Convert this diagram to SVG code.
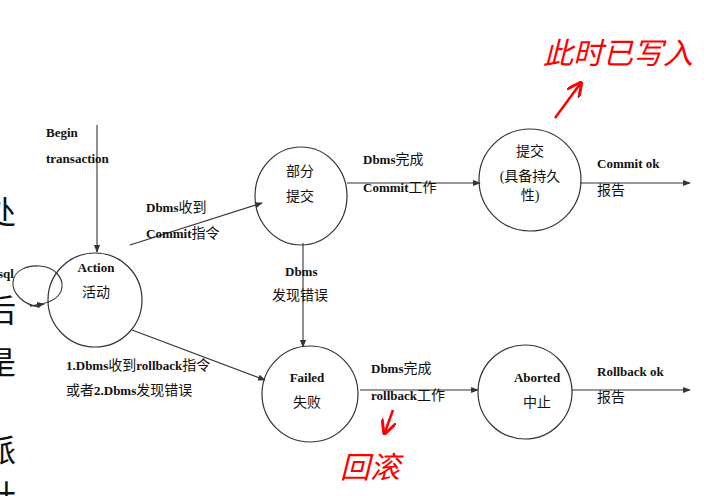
<svg xmlns="http://www.w3.org/2000/svg" width="712" height="496" viewBox="0 0 712 496">
<defs>
<style>
.n{fill:none;stroke:#333;stroke-width:1.2}
.b{font-family:"Liberation Serif","Noto Sans CJK SC",serif;font-weight:bold;font-size:13px;fill:#111}
.t{font-family:"Liberation Serif","Noto Sans CJK SC",serif;font-weight:normal;font-size:14px;fill:#111}
.l{stroke:#333;stroke-width:1.1;fill:none}
.big{font-family:"Noto Sans CJK SC",serif;font-size:32px;fill:#111}
.red{font-family:"Noto Sans CJK SC",sans-serif;font-size:30px;fill:#f00;font-style:italic}
</style>
<marker id="a" viewBox="0 0 10 10" refX="9" refY="5" markerWidth="7" markerHeight="7" orient="auto"><path d="M0,1L10,5L0,9z" fill="#333"/></marker>
<marker id="r" viewBox="0 0 10 10" refX="8" refY="5" markerWidth="6" markerHeight="6" orient="auto"><path d="M0,0L10,5L0,10" fill="none" stroke="#f00" stroke-width="2"/></marker>
</defs>
<rect width="712" height="496" fill="#fff"/>
<g id="margin">
<text class="big" x="-16" y="224">处</text>
<text class="big" x="-16" y="322">后</text>
<text class="big" x="-16" y="374">是</text>
<text class="big" x="-16" y="462">派</text>
<text class="big" x="-16" y="508">针</text>
</g>
<g id="connectors">
<line class="l" x1="97" y1="125" x2="97" y2="252" marker-end="url(#a)"/>
<path class="l" d="M40,307 C22,305 12,292 13,282 C14,270 28,265 40,266 C55,267 63,278 62,287 C61,298 50,304 30,306" stroke-width="1"/>
<path class="l" d="M30,306 L44,304" marker-end="url(#a)"/>
<line class="l" x1="130" y1="245" x2="262" y2="203" marker-end="url(#a)"/>
<line class="l" x1="132" y1="330" x2="265" y2="380" marker-end="url(#a)"/>
<line class="l" x1="303" y1="243" x2="303" y2="347" marker-end="url(#a)"/>
<line class="l" x1="347" y1="183" x2="480" y2="183" marker-end="url(#a)"/>
<line class="l" x1="580" y1="183" x2="690" y2="183" marker-end="url(#a)"/>
<line class="l" x1="360" y1="390" x2="478" y2="390" marker-end="url(#a)"/>
<line class="l" x1="572" y1="390" x2="690" y2="390" marker-end="url(#a)"/>
</g>
<g id="action"><circle class="n" cx="95" cy="300" r="47"/><text class="b" x="96" y="272" text-anchor="middle">Action</text><text class="t" x="96" y="297" text-anchor="middle">活动</text></g>
<g id="partial"><ellipse class="n" cx="301" cy="196" rx="46" ry="49"/><text class="t" x="300" y="176" text-anchor="middle">部分</text><text class="t" x="300" y="201" text-anchor="middle">提交</text></g>
<g id="commit"><circle class="n" cx="530" cy="180" r="51"/><text class="t" x="530" y="156" text-anchor="middle">提交</text><text class="t" x="530" y="181" text-anchor="middle">(具备持久</text><text class="t" x="530" y="200" text-anchor="middle">性)</text></g>
<g id="failed"><circle class="n" cx="310" cy="394" r="48"/><text class="b" x="307" y="382" text-anchor="middle">Failed</text><text class="t" x="307" y="407" text-anchor="middle">失败</text></g>
<g id="aborted"><circle class="n" cx="525" cy="392" r="47"/><text class="b" x="537" y="382" text-anchor="middle">Aborted</text><text class="t" x="537" y="407" text-anchor="middle">中止</text></g>
<g id="labels">
<text class="b" x="46" y="137">Begin</text>
<text class="b" x="46" y="163">transaction</text>
<text class="b" x="-2" y="278">sql</text>
<text class="b" x="146" y="212">Dbms<tspan class="t">收到</tspan></text>
<text class="b" x="146" y="238">Commit<tspan class="t">指令</tspan></text>
<text class="b" x="285" y="276">Dbms</text>
<text class="t" x="272" y="300">发现错误</text>
<text class="b" x="363" y="164">Dbms<tspan class="t">完成</tspan></text>
<text class="b" x="363" y="192">Commit<tspan class="t">工作</tspan></text>
<text class="b" x="597" y="168">Commit ok</text>
<text class="t" x="597" y="195">报告</text>
<text class="b" x="66" y="370">1.Dbms<tspan class="t">收到</tspan>rollback<tspan class="t">指令</tspan></text>
<text class="t" x="66" y="395">或者<tspan class="b">2.Dbms</tspan>发现错误</text>
<text class="b" x="371" y="373">Dbms<tspan class="t">完成</tspan></text>
<text class="b" x="371" y="400">rollback<tspan class="t">工作</tspan></text>
<text class="b" x="597" y="376">Rollback ok</text>
<text class="t" x="597" y="402">报告</text>
</g>
<g id="annotations">
<text class="red" x="543" y="64">此时已写入</text>
<line x1="555" y1="118" x2="580" y2="84" stroke="#f00" stroke-width="2.5" marker-end="url(#r)"/>
<line x1="393" y1="410" x2="385" y2="432" stroke="#f00" stroke-width="2.5" marker-end="url(#r)"/>
<text class="red" x="340" y="478" font-size="24">回滚</text>
</g>
</svg>
